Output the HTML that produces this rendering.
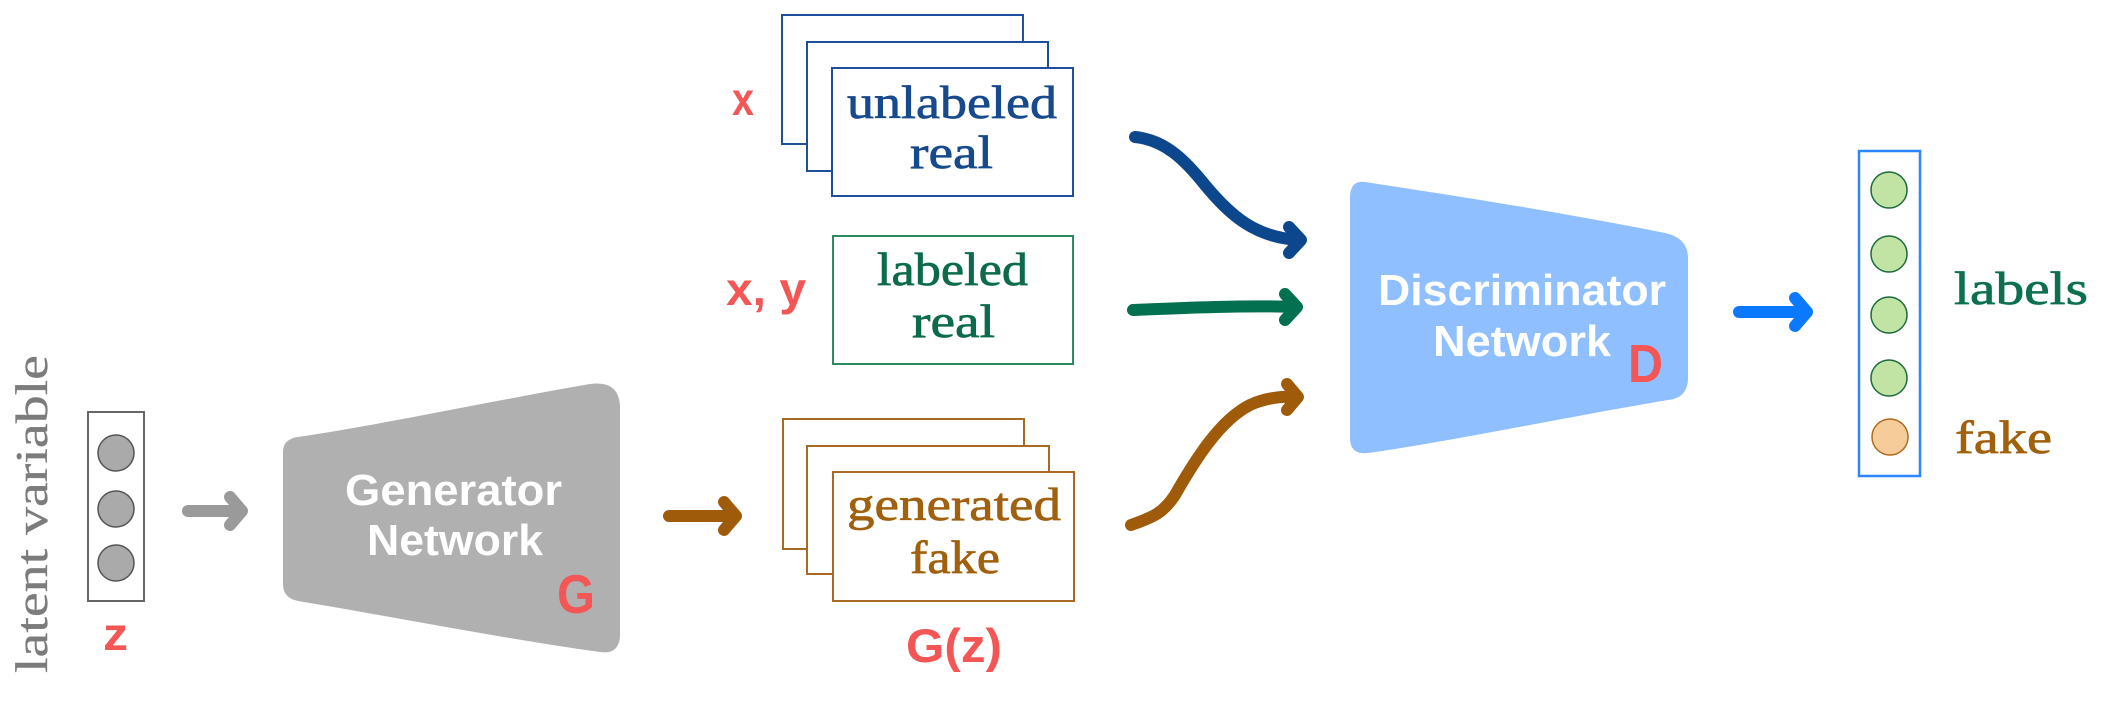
<!DOCTYPE html>
<html><head><meta charset="utf-8"><style>
html,body{margin:0;padding:0;background:#fff;}
svg{display:block;}
.tw{font-family:"Liberation Serif",serif;font-size:47px;stroke-width:0.7px;}
.wh{font-family:"Liberation Sans",sans-serif;font-weight:bold;font-size:44px;fill:#fff;}
.rd{font-family:"Liberation Sans",sans-serif;font-weight:bold;fill:#f45656;}
</style></head><body>
<svg width="2116" height="702" viewBox="0 0 2116 702" xmlns="http://www.w3.org/2000/svg">
<rect width="2116" height="702" fill="#fff"/>

<!-- latent variable -->
<text transform="translate(47,673) rotate(-90)" textLength="318" lengthAdjust="spacingAndGlyphs" style="font-family:'Liberation Serif',serif;font-size:45px;fill:#7c7c7c;stroke:#7c7c7c;stroke-width:0.3px;">latent variable</text>

<!-- z box -->
<rect x="88" y="412" width="56" height="189" fill="#fff" stroke="#666" stroke-width="2"/>
<circle cx="116" cy="453" r="18" fill="#aaa" stroke="#555" stroke-width="1.5"/>
<circle cx="116" cy="509" r="18" fill="#aaa" stroke="#555" stroke-width="1.5"/>
<circle cx="116" cy="563" r="18" fill="#aaa" stroke="#555" stroke-width="1.5"/>
<text class="rd" x="103" y="650" font-size="46" textLength="25" lengthAdjust="spacingAndGlyphs">z</text>

<!-- gray arrow -->
<g stroke="#9a9a9a" stroke-width="12" stroke-linecap="round" stroke-linejoin="round" fill="none">
<path d="M188,511 L242,511 M230,497 L242,511 L230,525"/>
</g>

<!-- generator -->
<path d="M298,437 C380,425 470,405 590,384 Q618,380 620,405 L620,632 Q621,655 600,652 C500,638 400,618 298,601 Q283,598 283,584 L283,452 Q283,439 298,437 Z" fill="#b0b0b0"/>
<text class="wh" x="345" y="505" textLength="217" lengthAdjust="spacingAndGlyphs">Generator</text>
<text class="wh" x="367" y="555" textLength="176" lengthAdjust="spacingAndGlyphs">Network</text>
<text class="rd" x="557" y="613" font-size="55" textLength="38" lengthAdjust="spacingAndGlyphs">G</text>

<!-- brown straight arrow -->
<g stroke="#a05b0a" stroke-width="12" stroke-linecap="round" stroke-linejoin="round" fill="none">
<path d="M669,516 L736,516 M724,502 L736,516 L724,530"/>
</g>

<!-- unlabeled real stack -->
<text class="rd" x="732" y="115" font-size="46" textLength="22" lengthAdjust="spacingAndGlyphs">x</text>
<g fill="#fff" stroke="#1f4f9a" stroke-width="2">
<rect x="782" y="15" width="241" height="129"/>
<rect x="807" y="42" width="241" height="129"/>
<rect x="832" y="68" width="241" height="128"/>
</g>
<text class="tw" x="847" y="118" textLength="210" lengthAdjust="spacingAndGlyphs" fill="#174a8c" stroke="#174a8c">unlabeled</text>
<text class="tw" x="910" y="168" textLength="83" lengthAdjust="spacingAndGlyphs" fill="#174a8c" stroke="#174a8c">real</text>

<!-- labeled real -->
<text class="rd" x="726" y="305" font-size="46" textLength="80" lengthAdjust="spacingAndGlyphs">x, y</text>
<rect x="833" y="236" width="240" height="128" fill="#fff" stroke="#2f8a5f" stroke-width="2"/>
<text class="tw" x="877" y="285" textLength="151" lengthAdjust="spacingAndGlyphs" fill="#0b6b4a" stroke="#0b6b4a">labeled</text>
<text class="tw" x="912" y="337" textLength="83" lengthAdjust="spacingAndGlyphs" fill="#0b6b4a" stroke="#0b6b4a">real</text>

<!-- generated fake stack -->
<g fill="#fff" stroke="#a86a20" stroke-width="2">
<rect x="783" y="419" width="241" height="130"/>
<rect x="807" y="446" width="242" height="128"/>
<rect x="833" y="472" width="241" height="129"/>
</g>
<text class="tw" x="847" y="520" textLength="214" lengthAdjust="spacingAndGlyphs" fill="#a0600c" stroke="#a0600c">generated</text>
<text class="tw" x="910" y="573" textLength="90" lengthAdjust="spacingAndGlyphs" fill="#a0600c" stroke="#a0600c">fake</text>
<text class="rd" x="906" y="662" font-size="47" textLength="96" lengthAdjust="spacingAndGlyphs">G(z)</text>

<!-- curved arrows into D -->
<g stroke-width="12" stroke-linecap="round" stroke-linejoin="round" fill="none">
<path stroke="#0c468c" d="M1135,137 C1165,140 1185,160 1205,185 C1230,215 1255,238 1300,240 M1289,227 L1301,240 L1289,253"/>
<path stroke="#03714f" d="M1133,310 C1180,308 1250,305 1296,307 M1285,294 L1297,307 L1285,320"/>
<path stroke="#a05b0a" d="M1131,525 C1150,518 1162,515 1175,495 C1195,460 1220,420 1250,405 C1265,398 1280,396 1297,397 M1287,384 L1298,397 L1287,410"/>
</g>

<!-- discriminator -->
<path d="M1365,182 C1450,195 1560,212 1665,233 Q1688,238 1688,258 L1688,378 Q1688,398 1668,400 C1560,418 1460,440 1368,453 Q1350,455 1350,438 L1350,198 Q1350,180 1365,182 Z" fill="#8fbfff"/>
<text class="wh" x="1378" y="305" textLength="288" lengthAdjust="spacingAndGlyphs">Discriminator</text>
<text class="wh" x="1433" y="356" textLength="178" lengthAdjust="spacingAndGlyphs">Network</text>
<text class="rd" x="1628" y="382" font-size="54" textLength="35" lengthAdjust="spacingAndGlyphs">D</text>

<!-- output arrow -->
<g stroke="#0a78ff" stroke-width="12" stroke-linecap="round" stroke-linejoin="round" fill="none">
<path d="M1739,312 L1807,312 M1795,298 L1807,312 L1795,326"/>
</g>

<!-- output column -->
<rect x="1859" y="151" width="61" height="325" fill="#fff" stroke="#2b86ff" stroke-width="2.5"/>
<g fill="#c1e3a4" stroke="#1c6b3c" stroke-width="1.5">
<circle cx="1889" cy="190" r="18"/>
<circle cx="1889" cy="254" r="18"/>
<circle cx="1889" cy="315" r="18"/>
<circle cx="1889" cy="378" r="18"/>
</g>
<circle cx="1890" cy="437" r="18" fill="#f7cc9b" stroke="#b06a1e" stroke-width="1.5"/>
<text class="tw" x="1954" y="304" textLength="134" lengthAdjust="spacingAndGlyphs" fill="#0c7050" stroke="#0c7050">labels</text>
<text class="tw" x="1955" y="453" textLength="97" lengthAdjust="spacingAndGlyphs" fill="#a0600c" stroke="#a0600c">fake</text>
</svg>
</body></html>
